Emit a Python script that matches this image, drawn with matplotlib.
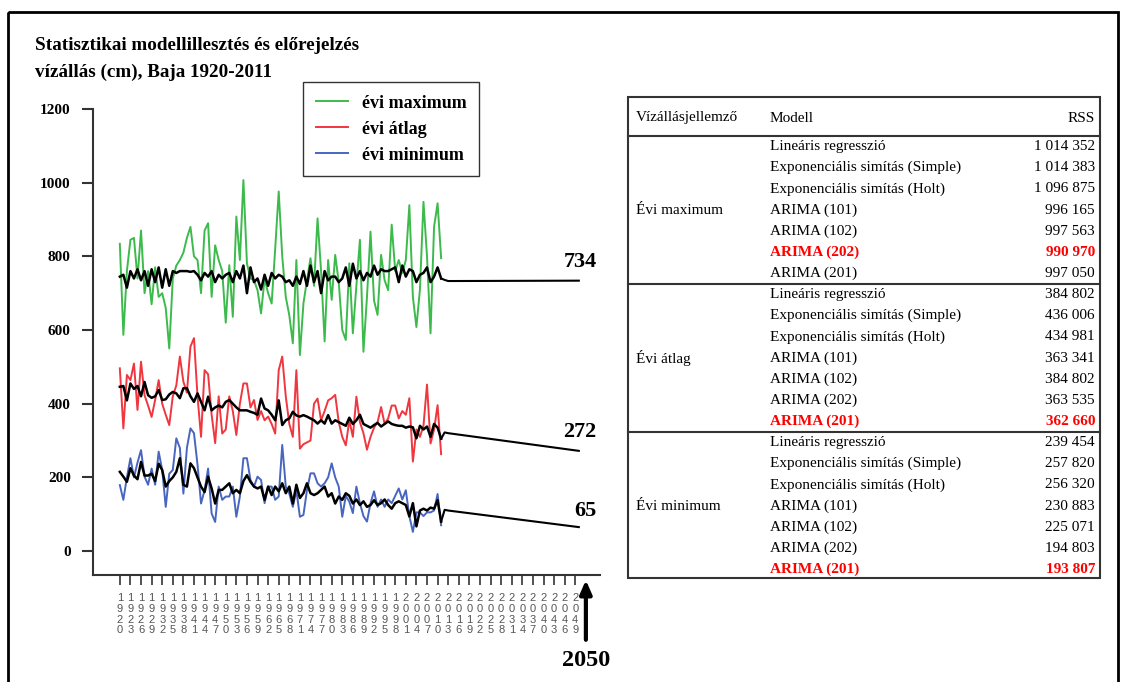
import numpy as np
import matplotlib
matplotlib.use("Agg")
import matplotlib.pyplot as plt
from matplotlib.patches import Rectangle

# observed yearly values, 1920-2011 (cm)
evi_max = [834, 587, 760, 845, 850, 740, 870, 700, 760, 670, 770, 690, 700, 660, 550, 740,
           775, 790, 810, 850, 880, 800, 790, 700, 870, 890, 690, 830, 790, 760, 620,
           776, 636, 908, 790, 1007, 781, 740, 735, 708, 645, 740, 700, 672, 820, 976,
           800, 690, 640, 564, 790, 532, 672, 735, 795, 720, 903, 760, 569, 790, 682,
           804, 730, 600, 573, 781, 591, 720, 845, 541, 690, 867, 680, 641, 804, 735,
           708, 886, 760, 790, 755, 790, 939, 690, 608, 710, 948, 800, 591, 880, 944, 795]
evi_atlag = [496, 333, 478, 464, 509, 383, 514, 423, 395, 364, 410, 464, 400, 370, 342, 420,
             450, 528, 460, 430, 555, 578, 420, 310, 491, 480, 370, 293, 420, 319, 330,
             420, 380, 315, 400, 455, 455, 390, 410, 356, 380, 355, 365, 345, 319, 491,
             528, 420, 345, 310, 491, 278, 290, 295, 300, 400, 414, 355, 380, 409, 415,
             424, 350, 310, 287, 355, 310, 419, 350, 320, 275, 310, 335, 350, 391, 345,
             360, 395, 395, 360, 380, 370, 415, 243, 330, 310, 340, 452, 292, 330, 396, 263]
evi_min = [179, 139, 200, 252, 200, 240, 274, 202, 180, 224, 180, 270, 220, 120, 210, 220,
           306, 280, 156, 280, 333, 320, 235, 129, 165, 224, 102, 79, 175, 139, 148,
           148, 175, 93, 148, 252, 252, 193, 175, 202, 193, 130, 175, 175, 139, 148,
           288, 175, 156, 120, 165, 93, 98, 165, 211, 211, 184, 175, 184, 200, 238,
           200, 175, 93, 150, 134, 103, 175, 130, 95, 80, 130, 162, 120, 140, 120,
           140, 130, 150, 170, 140, 165, 95, 52, 105, 105, 95, 105, 105, 110, 155, 70]

# fitted models (black), 1920-2011
fit_max = [745, 750, 715, 760, 740, 765, 735, 760, 720, 765, 730, 770, 715, 765, 720, 760,
           755, 760, 760, 760, 758, 760, 750, 735, 755, 745, 760, 730, 750, 740, 750,
           755, 730, 760, 740, 775, 700, 770, 730, 740, 710, 750, 720, 755, 740, 750,
           745, 730, 735, 720, 745, 725, 760, 720, 775, 730, 760, 700, 760, 735, 745,
           745, 730, 740, 770, 720, 780, 740, 760, 735, 755, 745, 775, 750, 765, 760,
           760, 765, 770, 730, 775, 745, 765, 760, 730, 750, 755, 770, 730, 745, 770, 740]
fit_atlag = [446, 448, 409, 455, 440, 448, 420, 459, 423, 416, 420, 437, 410, 412, 425, 432,
             428, 415, 442, 442, 420, 405, 428, 405, 382, 419, 382, 390, 395, 390, 405,
             410, 400, 390, 382, 382, 382, 378, 375, 370, 414, 387, 382, 370, 355, 409,
             342, 355, 360, 378, 368, 365, 369, 365, 360, 355, 346, 355, 346, 369, 346,
             355, 350, 345, 340, 362, 345, 355, 370, 345, 340, 335, 342, 348, 338, 345,
             352, 345, 342, 340, 340, 335, 338, 336, 306, 340, 330, 338, 310, 345, 335, 305]
fit_min = [215, 202, 188, 225, 205, 195, 242, 205, 205, 210, 190, 237, 220, 175, 190, 200,
           215, 252, 180, 175, 238, 225, 200, 175, 160, 202, 170, 129, 166, 166, 175,
           184, 157, 166, 157, 190, 206, 188, 175, 170, 175, 139, 175, 152, 175, 162,
           184, 157, 175, 129, 180, 144, 157, 184, 157, 152, 157, 166, 175, 148, 157,
           129, 148, 139, 157, 150, 129, 140, 125, 135, 120, 125, 138, 125, 130, 140,
           125, 115, 130, 135, 130, 125, 94, 130, 67, 110, 115, 110, 118, 115, 138, 80]

# forecasts to 2050
fc_years = [2011, 2012, 2013, 2050]
fc_max = [740, 736, 733, 734]
fc_atlag = [305, 322, 320, 272]
fc_min = [80, 112, 110, 65]
end_labels = ["734", "272", "65"]
end_label_y = [785, 323, 109]

tick_years = list(range(1920, 2050, 3))
y_ticks = [0, 200, 400, 600, 800, 1000, 1200]

# RSS table
table_header = ["Vízállásjellemző", "Modell", "RSS"]
groups = ["Évi maximum", "Évi átlag", "Évi minimum"]
models = ["Lineáris regresszió", "Exponenciális simítás (Simple)",
          "Exponenciális simítás (Holt)", "ARIMA (101)", "ARIMA (102)",
          "ARIMA (202)", "ARIMA (201)"]
rss_max = ["1 014 352", "1 014 383", "1 096 875", "996 165", "997 563", "990 970", "997 050"]
rss_atlag = ["384 802", "436 006", "434 981", "363 341", "384 802", "363 535", "362 660"]
rss_min = ["239 454", "257 820", "256 320", "230 883", "225 071", "194 803", "193 807"]
best_model = [5, 6, 6]

GREEN = "#3dba4c"
RED = "#f0363f"
BLUE = "#4866bf"
SERIF = "Liberation Serif"

W, H = 1129, 682
fig = plt.figure(figsize=(W / 100, H / 100), dpi=100)

# overlay in pixel coordinates for frame, title and table
ov = fig.add_axes([0, 0, 1, 1])
ov.set_xlim(0, W)
ov.set_ylim(H, 0)
ov.axis("off")
ov.patch.set_alpha(0)

ov.add_patch(Rectangle((8, 12), 1110, 700, fill=False, edgecolor="black", linewidth=2))
ov.text(35, 45, "Statisztikai modellillesztés és előrejelzés", fontsize=13.8,
        fontweight="bold", family=SERIF, va="center")
ov.text(35, 72, "vízállás (cm), Baja 1920-2011", fontsize=13.8,
        fontweight="bold", family=SERIF, va="center")

# table
TFS = 11
tx0, tx1, ty0, ty1 = 628, 1100, 97, 578
ov.add_patch(Rectangle((tx0, ty0), tx1 - tx0, ty1 - ty0, fill=False,
                       edgecolor="#333333", linewidth=1.5))
ov.text(636, 118, table_header[0], fontsize=TFS, family=SERIF, va="center")
ov.text(770, 118, table_header[1], fontsize=TFS, family=SERIF, va="center")
ov.text(1095, 118, table_header[2], fontsize=TFS, family=SERIF, va="center", ha="right")
for g, (name, rss) in enumerate(zip(groups, [rss_max, rss_atlag, rss_min])):
    top = 136 + g * 148
    ov.plot([tx0, tx1], [top, top], color="#333333", lw=1.5)
    for i, (m, r) in enumerate(zip(models, rss)):
        y = top + 10.5 + i * 21.2
        hl = i == best_model[g]
        kw = dict(fontsize=TFS, family=SERIF, va="center",
                  color="#ff0000" if hl else "black",
                  fontweight="bold" if hl else "normal")
        ov.text(770, y, m, **kw)
        ov.text(1095, y, r, ha="right", **kw)
    ov.text(636, top + 10.5 + 3 * 21.2, name, fontsize=TFS, family=SERIF, va="center")

# main chart
ax = fig.add_axes([93 / W, 1 - 575 / H, (600 - 93) / W, (575 - 109) / H])
ax.set_xlim(1912.4, 2056)
ax.set_ylim(-65, 1200)

ax.plot(np.arange(1920, 1920 + len(evi_max)), evi_max, color=GREEN, lw=1.4, label="évi maximum")
ax.plot(np.arange(1920, 1920 + len(evi_atlag)), evi_atlag, color=RED, lw=1.4, label="évi átlag")
ax.plot(np.arange(1920, 1920 + len(evi_min)), evi_min, color=BLUE, lw=1.4, label="évi minimum")
for fit, fc in [(fit_max, fc_max), (fit_atlag, fc_atlag), (fit_min, fc_min)]:
    ax.plot(np.arange(1920, 1920 + len(fit)), fit, color="black", lw=1.8, zorder=5)
    ax.plot(fc_years, fc, color="black", lw=1.5, zorder=5)
for lab, yv in zip(end_labels, end_label_y):
    ax.text(2055, yv, lab, ha="right", va="center", fontsize=16,
            fontweight="bold", family=SERIF)

for s in ["top", "right"]:
    ax.spines[s].set_visible(False)
for s in ["left", "bottom"]:
    ax.spines[s].set_color("#333333")
    ax.spines[s].set_linewidth(1.5)

ax.set_yticks(y_ticks)
ax.set_yticklabels([str(v) for v in y_ticks], fontsize=11, fontweight="bold", family=SERIF)
ax.tick_params(axis="y", length=8, width=1.5, color="#333333", pad=8)
ax.set_xticks(tick_years)
ax.set_xticklabels(["\n".join(str(t)) for t in tick_years], fontsize=8,
                   family="Liberation Sans", color="#555555", linespacing=1.1)
ax.tick_params(axis="x", length=7, width=1.2, color="#333333", pad=6)

ax.annotate("", xy=(2052, -0.005), xycoords=("data", "axes fraction"),
            xytext=(2052, -0.145), textcoords=("data", "axes fraction"),
            arrowprops=dict(arrowstyle="-|>,head_width=0.35,head_length=0.8",
                            color="black", lw=3), annotation_clip=False)
ax.text(2052, -0.16, "2050", transform=ax.get_xaxis_transform(), ha="center", va="top",
        fontsize=17.5, fontweight="bold", family=SERIF)

fig.legend(loc="upper left", bbox_to_anchor=(303 / W, 1 - 82 / H), frameon=True,
           fancybox=False, edgecolor="#333333", framealpha=1, borderaxespad=0,
           prop={"family": SERIF, "weight": "bold", "size": 13},
           handlelength=1.8, handletextpad=0.75, labelspacing=0.5, borderpad=0.7)

fig.savefig("out.png", dpi=100)
